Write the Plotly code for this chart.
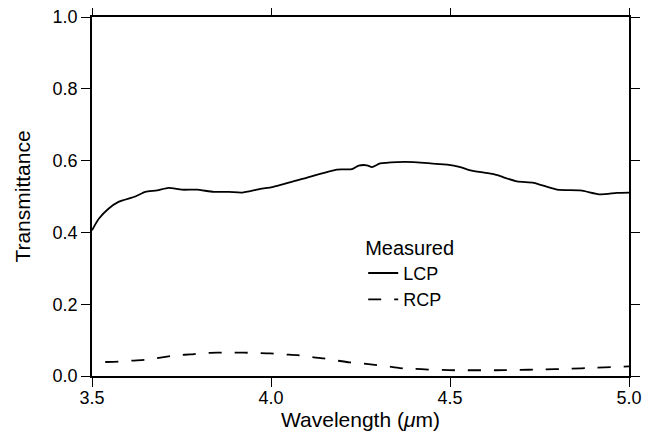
import plotly.graph_objects as go

# LCP (solid) measured transmittance
lcp_wl = [3.500, 3.519, 3.546, 3.574, 3.621, 3.649, 3.682, 3.714, 3.751, 3.793,
          3.840, 3.882, 3.919, 3.965, 4.007, 4.091, 4.184, 4.226, 4.245, 4.268,
          4.282, 4.305, 4.352, 4.398, 4.445, 4.492, 4.529, 4.557, 4.622, 4.687,
          4.734, 4.799, 4.864, 4.920, 4.966, 5.000]
lcp_t = [0.406, 0.438, 0.466, 0.485, 0.500, 0.513, 0.517, 0.524, 0.519, 0.519,
         0.513, 0.513, 0.511, 0.520, 0.527, 0.550, 0.575, 0.576, 0.586, 0.587,
         0.582, 0.592, 0.596, 0.596, 0.592, 0.589, 0.582, 0.573, 0.562, 0.542,
         0.538, 0.519, 0.517, 0.506, 0.510, 0.511]

# RCP (dashed) measured transmittance
rcp_wl = [3.537, 3.574, 3.612, 3.649, 3.682, 3.737, 3.775, 3.812, 3.849, 3.886,
          3.924, 3.961, 3.998, 4.035, 4.073, 4.110, 4.147, 4.184, 4.220, 4.254,
          4.290, 4.320, 4.360, 4.400, 4.440, 4.478, 4.515, 4.550, 4.589, 4.627,
          4.680, 4.757, 4.830, 4.905, 4.960, 5.000]
rcp_t = [0.039, 0.040, 0.043, 0.045, 0.050, 0.058, 0.060, 0.064, 0.065, 0.065,
         0.065, 0.064, 0.063, 0.060, 0.058, 0.053, 0.049, 0.043, 0.038, 0.035,
         0.031, 0.028, 0.022, 0.020, 0.018, 0.017, 0.016, 0.016, 0.016, 0.016,
         0.017, 0.018, 0.020, 0.023, 0.025, 0.027]

x_ticks = [3.5, 4.0, 4.5, 5.0]
y_ticks = [0.0, 0.2, 0.4, 0.6, 0.8, 1.0]

FONT = "Liberation Sans, Arial, Helvetica, sans-serif"

fig = go.Figure()
fig.add_trace(go.Scatter(x=lcp_wl, y=lcp_t, mode="lines", name="LCP",
                         line=dict(color="black", width=1.8, shape="spline", smoothing=0.6)))
fig.add_trace(go.Scatter(x=rcp_wl, y=rcp_t, mode="lines", name="RCP",
                         line=dict(color="black", width=1.8, dash="13px,13px",
                                   shape="spline", smoothing=0.6)))

axis_common = dict(showgrid=False, zeroline=False, showline=True, linecolor="black",
                   linewidth=1.6, mirror="ticks", ticks="outside", ticklen=9,
                   tickwidth=1.4, tickcolor="black", automargin=False,
                   ticklabeloverflow="allow",
                   tickfont=dict(family=FONT, size=18, color="black"))

fig.update_xaxes(range=[3.5, 5.0], tickvals=x_ticks,
                 ticktext=[f"{v:.1f}" for v in x_ticks],
                 ticklabelstandoff=-4,
                 title=dict(text="Wavelength (<i>μ</i>m)",
                            font=dict(family=FONT, size=21, color="black"),
                            standoff=0),
                 **axis_common)
fig.update_yaxes(range=[0.0, 1.0], tickvals=y_ticks,
                 ticktext=[f"{v:.1f}" for v in y_ticks],
                 title=dict(text="Transmittance",
                            font=dict(family=FONT, size=21, color="black"),
                            standoff=16),
                 **axis_common)

# page body adds an 8px offset; size the figure so the plot lands where the reference has it
fig.update_layout(
    width=646, height=428,
    margin=dict(l=84, r=25, t=9, b=60),
    paper_bgcolor="white", plot_bgcolor="white",
    font=dict(family=FONT, color="black"),
    legend=dict(title=dict(text="Measured", font=dict(family=FONT, size=20, color="black")),
                font=dict(family=FONT, size=18, color="black"),
                x=0.505, y=0.41, xanchor="left", yanchor="top",
                bgcolor="rgba(0,0,0,0)", itemwidth=30, tracegroupgap=0),
)

fig.write_html("out.html")
